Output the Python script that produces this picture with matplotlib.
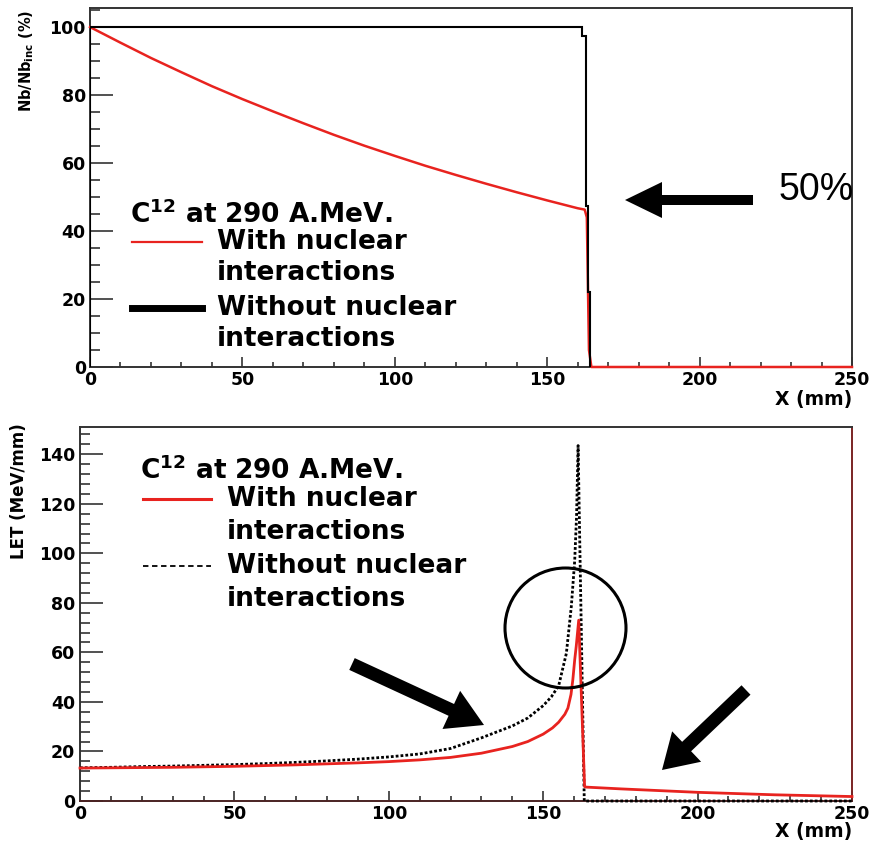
import matplotlib
matplotlib.use("Agg")
import matplotlib.pyplot as plt
from matplotlib.lines import Line2D
from matplotlib.patches import Ellipse, FancyArrowPatch
from matplotlib.ticker import MultipleLocator

plt.rcParams['font.family'] = ['DejaVu Sans']
plt.rcParams['font.weight'] = 'bold'
plt.rcParams['mathtext.fontset'] = 'dejavusans'
plt.rcParams['mathtext.default'] = 'bf'

W, H = 874, 841
RED = '#e8231f'

# ---- surviving primary ions (%) vs depth ----
depth_surv = [0, 10, 20, 30, 40, 50, 60, 70, 80, 90, 100, 110, 120, 130, 140,
              150, 160, 162.3, 163.0, 163.7, 164.5, 250]
surv_with = [100, 95.4, 90.9, 86.7, 82.6, 78.8, 75.2, 71.7, 68.3, 65.1, 62.1,
             59.2, 56.5, 53.9, 51.4, 49.0, 46.7, 46.3, 44.0, 5.0, 0.0, 0.0]
edges_without = [0, 161.5, 162.6, 163.5, 164.2]
surv_without = [100, 97.5, 47.5, 22]

# ---- LET (MeV/mm) vs depth ----
depth_let_with = [0, 10, 20, 30, 40, 50, 60, 70, 80, 90, 100, 110, 120, 130, 140,
                  145, 150, 153, 155, 157, 158, 159, 159.6, 160.2, 160.7, 161.5,
                  163.4, 164, 175, 200, 225, 250]
let_with = [13.3, 13.4, 13.5, 13.6, 13.8, 14.0, 14.3, 14.6, 15.0, 15.4, 15.9,
            16.6, 17.6, 19.3, 22.0, 24.0, 27.0, 29.5, 31.8, 35.0, 37.5, 43.0,
            49.0, 57.0, 62.5, 73.0, 5.8, 5.6, 4.9, 3.5, 2.5, 1.8]
depth_let_without = [0, 10, 20, 30, 40, 50, 60, 70, 80, 90, 100, 110, 120, 130,
                     140, 145, 150, 152.6, 155, 157.5, 159.1, 160.2, 160.8, 161.3,
                     163.3, 250]
let_without = [13.4, 13.6, 13.9, 14.1, 14.4, 14.7, 15.1, 15.6, 16.2, 16.9, 17.8,
               19.0, 21.2, 25.5, 30.3, 33.5, 38.5, 42.0, 46.5, 59.6, 78.5, 97.0,
               115.0, 143.5, 0.0, 0.0]

title_txt = r"C$^{12}$ at 290 A.MeV."
lab_with = "With nuclear\ninteractions"
lab_without = "Without nuclear\ninteractions"


def fr(x, y):
    """pixel position (from top-left) -> figure fraction"""
    return x / W, 1 - y / H


fig = plt.figure(figsize=(W / 100, H / 100), dpi=100)
fig.patch.set_facecolor('white')

ax1 = fig.add_axes([90 / W, 1 - 367 / H, 762 / W, 359 / H])
ax2 = fig.add_axes([80 / W, 1 - 801 / H, 772 / W, 374 / H])


def style_axes(ax, ymax, ymaj, ymin, ypad, spine_cols):
    ax.set_xlim(0, 250)
    ax.set_ylim(0, ymax)
    ax.xaxis.set_major_locator(MultipleLocator(50))
    ax.xaxis.set_minor_locator(MultipleLocator(10))
    ax.yaxis.set_major_locator(MultipleLocator(ymaj))
    ax.yaxis.set_minor_locator(MultipleLocator(ymin))
    ax.tick_params(axis='both', which='both', direction='in', top=False,
                   right=False, width=1.1, colors='#222222', labelcolor='black')
    ax.tick_params(axis='x', which='major', length=7.2, pad=3, labelsize=12.5)
    ax.tick_params(axis='x', which='minor', length=3.8)
    ax.tick_params(axis='y', which='major', length=16.5, pad=ypad, labelsize=12.5)
    ax.tick_params(axis='y', which='minor', length=7.2)
    for side, c in spine_cols.items():
        ax.spines[side].set_color(c)
        ax.spines[side].set_linewidth(1.4)
    for lab in ax.get_xticklabels() + ax.get_yticklabels():
        lab.set_fontweight('bold')


style_axes(ax1, 105.6, 20, 5, 3.0,
           {'left': '#333333', 'bottom': '#333333', 'top': '#333333', 'right': '#333333'})
style_axes(ax2, 151, 20, 4, 3.6,
           {'left': '#333333', 'bottom': '#4a2222', 'top': '#333333', 'right': '#7a2424'})

# top panel curves
ax1.plot(depth_surv, surv_with, color=RED, lw=1.8, zorder=3, clip_on=False)
ax1.stairs(surv_without, edges_without, baseline=0, color='black', lw=1.5, zorder=3.2)

# bottom panel curves
ax2.plot(depth_let_without, let_without, color='black', lw=2.0,
         linestyle=(0, (1.0, 0.75)), zorder=3, clip_on=False)
ax2.plot(depth_let_with, let_with, color=RED, lw=2.0, zorder=3.2, clip_on=False)

# axis titles
fig.text(*fr(852, 399), "X (mm)", ha='right', va='center', fontsize=13.5, fontweight='bold')
fig.text(*fr(852, 831), "X (mm)", ha='right', va='center', fontsize=13.5, fontweight='bold')
fig.text(*fr(27, 10), r"Nb/Nb$_{\mathbf{inc}}$ (%)", rotation=90, ha='center', va='top',
         fontsize=10.5, fontweight='bold')
fig.text(*fr(19, 423), "LET (MeV/mm)", rotation=90, ha='center', va='top',
         fontsize=12, fontweight='bold')

# legend blocks
LEG_FS = 19


def legend_block(x_line0, x_line1, x_text, x_title, y_title, y1, y2, dy,
                 style1, style2):
    fig.text(*fr(x_title, y_title), title_txt, ha='left', va='baseline',
             fontsize=LEG_FS, fontweight='bold')
    for (y, sty, lab) in ((y1, style1, lab_with), (y2, style2, lab_without)):
        fig.add_artist(Line2D([x_line0 / W, x_line1 / W], [1 - y / H, 1 - y / H],
                              transform=fig.transFigure, **sty))
        lines = lab.split("\n")
        fig.text(*fr(x_text, y + 7), lines[0], ha='left', va='baseline',
                 fontsize=LEG_FS, fontweight='bold')
        fig.text(*fr(x_text, y + 7 + dy), lines[1], ha='left', va='baseline',
                 fontsize=LEG_FS, fontweight='bold')


legend_block(132, 202, 217, 130, 223, 242, 308, 31,
             dict(color=RED, lw=1.6),
             dict(color='black', lw=5.0))
legend_block(143, 211, 227, 140, 479, 499, 566, 33,
             dict(color=RED, lw=2.2),
             dict(color='black', lw=1.3, linestyle=(0, (3, 2))))

# annotations
fig.text(*fr(779, 200), "50%", ha='left', va='baseline', fontsize=27,
         fontweight='normal', family='Liberation Sans')


def arrow(tail, tip, shaft, hw, hl):
    ms = 10.0
    unit = ms * 100 / 72.0
    style = (f"simple,head_length={hl / unit:.3f},head_width={hw / unit:.3f},"
             f"tail_width={shaft / unit:.3f}")
    fig.add_artist(FancyArrowPatch(fr(*tail), fr(*tip), transform=fig.transFigure,
                                   arrowstyle=style, mutation_scale=ms,
                                   color='black', lw=0, shrinkA=0, shrinkB=0))


arrow((753, 200), (625, 200), 10, 36, 37)
arrow((352, 664), (484, 725), 13, 42, 36)
arrow((746, 690), (662, 770), 13, 42, 34)

fig.add_artist(Ellipse(fr(565.5, 628), 121 / W, 120 / H, transform=fig.transFigure,
                       fill=False, lw=2.2, edgecolor='black'))

fig.savefig("out.png", dpi=100, facecolor='white')
